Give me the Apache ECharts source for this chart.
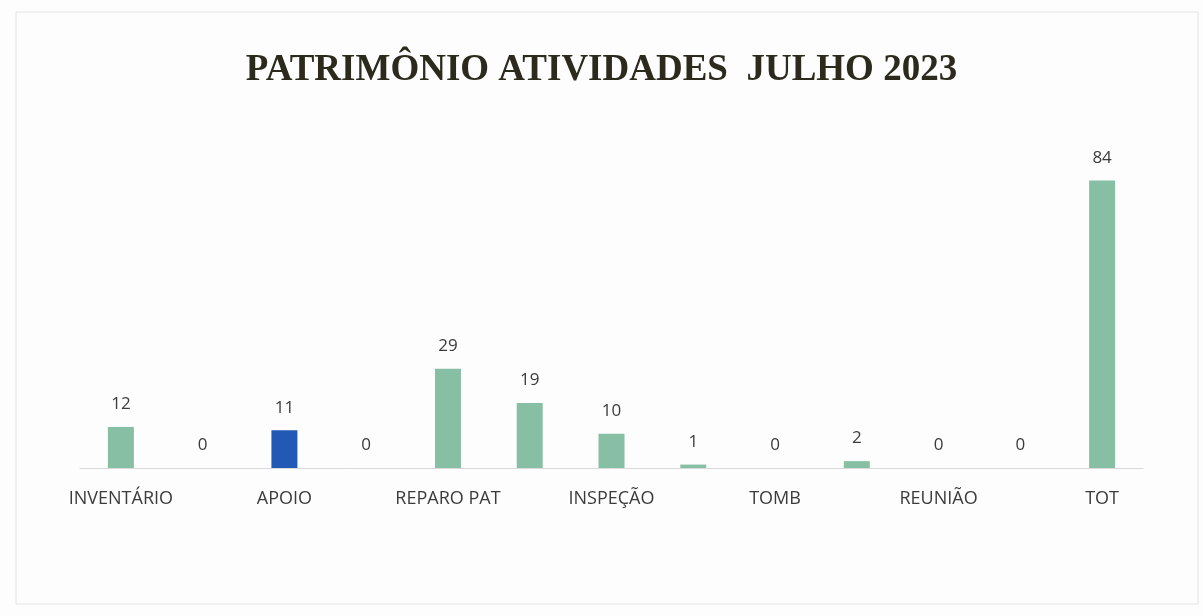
<!DOCTYPE html>
<html>
<head>
<meta charset="utf-8">
<script src="https://cdn.jsdelivr.net/npm/echarts@6/dist/echarts.min.js"></script>
<style>
html,body{margin:0;padding:0;background:#fdfdfd;}
#c{width:1203px;height:616px;}
</style>
</head>
<body>
<div id="c"></div>
<script>
const titleText = 'PATRIMÔNIO ATIVIDADES  JULHO 2023';
const categories = ['INVENTÁRIO', '', 'APOIO', '', 'REPARO PAT', '', 'INSPEÇÃO', '', 'TOMB', '', 'REUNIÃO', '', 'TOT'];
const values = [12, 0, 11, 0, 29, 19, 10, 1, 0, 2, 0, 0, 84];
const barColors = ['#86bfa4', '#86bfa4', '#2159b4', '#86bfa4', '#86bfa4', '#86bfa4', '#86bfa4', '#86bfa4', '#86bfa4', '#86bfa4', '#86bfa4', '#86bfa4', '#86bfa4'];

const chart = echarts.init(document.getElementById('c'));
chart.setOption({
  backgroundColor: '#fdfdfd',
  animation: false,
  graphic: [{
    type: 'rect',
    shape: {x: 16, y: 12, width: 1182, height: 592},
    style: {fill: 'none', stroke: '#e4e4e4', lineWidth: 1},
    silent: true
  }],
  title: {
    text: titleText,
    left: 'center',
    top: 47,
    textStyle: {
      fontFamily: 'Liberation Serif',
      fontWeight: 'bold',
      fontSize: 37,
      color: '#2b2a1c'
    }
  },
  grid: {left: 80, right: 60, top: 153, bottom: 148},
  xAxis: {
    type: 'category',
    data: categories,
    axisLine: {show: true, lineStyle: {color: '#d9d9d9', width: 1}},
    axisTick: {show: false},
    axisLabel: {
      interval: 0,
      margin: 22,
      fontFamily: 'Open Sans',
      fontSize: 18,
      color: '#3b3b3b'
    }
  },
  yAxis: {
    type: 'value',
    min: 0,
    max: 92,
    show: false,
    splitLine: {show: false}
  },
  series: [{
    type: 'bar',
    data: values.map((v, i) => ({value: v, itemStyle: {color: barColors[i]}})),
    barWidth: 26,
    label: {
      show: true,
      position: 'top',
      distance: 14,
      fontFamily: 'Open Sans',
      fontSize: 17,
      color: '#3b3b3b'
    }
  }]
});
</script>
</body>
</html>
